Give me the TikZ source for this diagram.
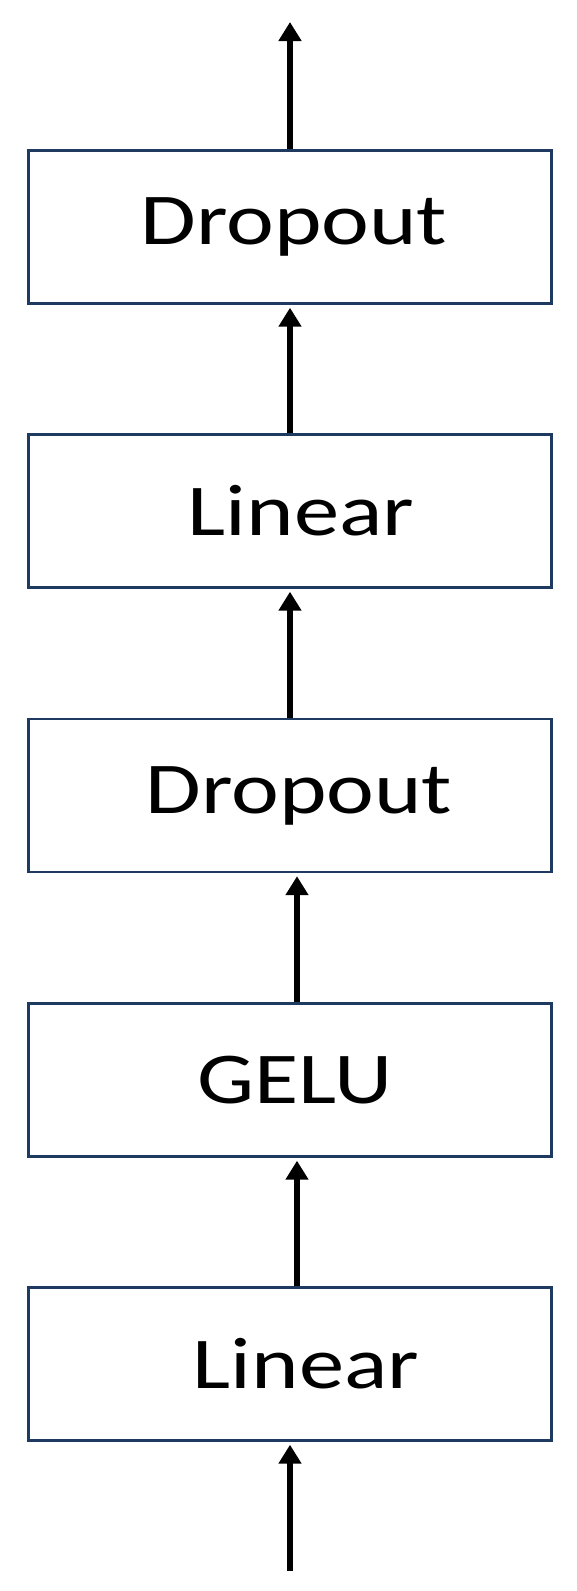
\documentclass[tikz,border=0pt]{standalone}
\usepackage{fontspec}
\setmainfont{Carlito}
\usepackage{graphicx}
\usetikzlibrary{arrows.meta}
\definecolor{boxblue}{HTML}{1F3A60}
\newcommand{\wtext}[2]{\hspace*{#1}\scalebox{1.24}[1]{#2}}
\tikzset{
  layerbox/.style={draw=boxblue, line width=2.4pt, fill=white, minimum width=523pt, minimum height=153pt, inner sep=0pt, font=\fontsize{73}{80}\selectfont},
  flow/.style={line width=5.2pt, -{Triangle[width=22pt,length=19pt]}}
}
\begin{document}
\begin{tikzpicture}[x=1pt,y=1pt]
\useasboundingbox (0,0) rectangle (577,-1591);
\node[layerbox] (b1) at (290,-227) {\wtext{8pt}{Dropout}};
\node[layerbox] (b2) at (290,-511) {\wtext{22pt}{Linear}};
\node[layerbox] (b3) at (290,-795.5) {\wtext{18pt}{Dropout}};
\node[layerbox] (b4) at (290,-1080) {\wtext{10pt}{GELU}};
\node[layerbox] (b5) at (290,-1364) {\wtext{32pt}{Linear}};
\coordinate (top) at (290,-22);
\coordinate (bot) at (290,-1571);
\draw[flow] (b1.north) -- (top);
\draw[flow] (b2.north) -- ([yshift=-3pt]b1.south);
\draw[flow] (b3.north) -- ([yshift=-3pt]b2.south);
\draw[flow] ([xshift=7pt]b4.north) -- ([xshift=7pt,yshift=-3pt]b3.south);
\draw[flow] ([xshift=7pt]b5.north) -- ([xshift=7pt,yshift=-3pt]b4.south);
\draw[flow] (bot) -- ([yshift=-3pt]b5.south);
\end{tikzpicture}
\end{document}
